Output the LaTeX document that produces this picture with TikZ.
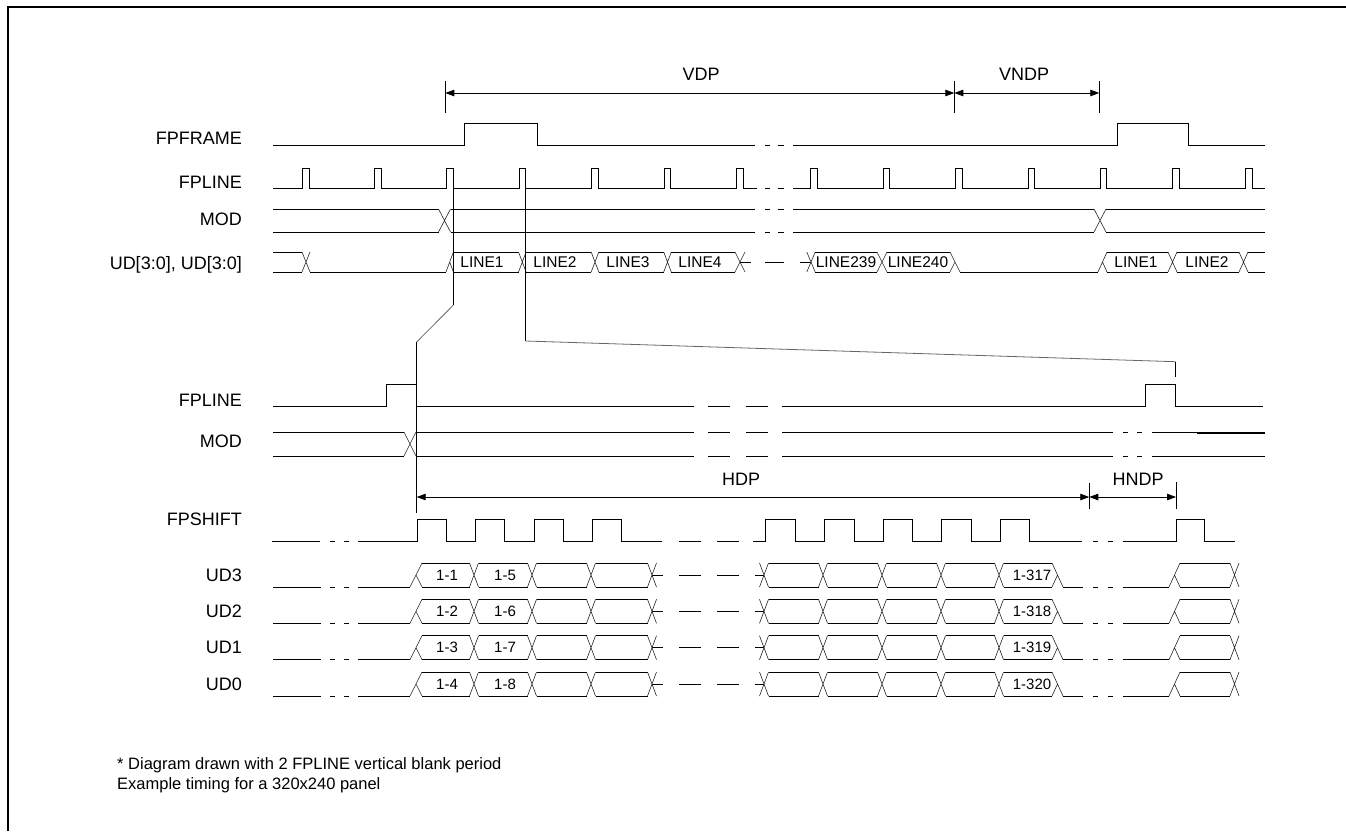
\documentclass[tikz,border=0pt]{standalone}
\usepackage{fontspec}
\setmainfont{Liberation Sans}
\usetikzlibrary{arrows.meta}
\newcommand\XX[4]{\draw[xing] ({#1-#2},#3) -- ({#1+#2},#4) ({#1-#2},#4) -- ({#1+#2},#3);}
\newcommand\OPN[4]{\draw[xing] ({#1-#2},#4) -- ({#1+#2},#3) (#1,{(#3+#4)/2}) -- ({#1+#2},#4);}
\newcommand\CLS[4]{\draw[xing] ({#1-#2},#3) -- ({#1+#2},#4) ({#1-#2},#4) -- (#1,{(#3+#4)/2});}
\newcommand\BUS[4]{\draw[sig] (#1,#3) -- (#2,#3) (#1,#4) -- (#2,#4);}
\begin{document}
\begin{tikzpicture}[x=1pt,y=-1pt,
  sig/.style={line width=1pt, black},
  xing/.style={line width=0.6pt, black!85},
  dim/.style={line width=0.8pt, {Triangle[length=9pt,width=6.5pt]}-{Triangle[length=9pt,width=6.5pt]}},
  tick/.style={line width=0.8pt},
  lbl/.style={font=\fontsize{18}{21}\selectfont, anchor=base east, inner sep=0pt},
  ttl/.style={font=\fontsize{18}{21}\selectfont, anchor=base, inner sep=0pt},
  bus/.style={font=\fontsize{15.5}{18}\selectfont, inner sep=0pt},
  cell/.style={font=\fontsize{15}{18}\selectfont, inner sep=0pt},
  note/.style={font=\fontsize{16.5}{20}\selectfont, anchor=base west, inner sep=0pt},
  zoomline/.style={line width=0.8pt, black!60},
]
\useasboundingbox (0,0) rectangle (1346,831);
\draw[line width=2pt] (7.5,831) -- (7.5,7) -- (1346,7);

% ---------- left labels ----------
\node[lbl] (lFPFRAME) at (242,144) {FPFRAME};
\node[lbl] (lFPLINE) at (242,188) {FPLINE};
\node[lbl] (lMOD) at (242,225) {MOD};
\node[lbl] (lUD) at (242,269) {UD[3:0], UD[3:0]};
\node[lbl] (lFPLINEb) at (242,406) {FPLINE};
\node[lbl] (lMODb) at (242,447) {MOD};
\node[lbl] (lFPSHIFT) at (242,525) {FPSHIFT};

% ---------- VDP / VNDP ----------
\coordinate (vL) at (445.3,93); \coordinate (vM) at (954.3,93); \coordinate (vR) at (1099.3,93);
\draw[tick] (445.3,81) -- (445.3,113) (954.3,81) -- (954.3,113) (1099.3,81) -- (1099.3,113);
\draw[dim] (vL) -- (vM);
\draw[dim] (vM) -- (vR);
\node[ttl] (tVDP) at (701,80) {VDP};
\node[ttl] (tVNDP) at (1024,80) {VNDP};

% ---------- FPFRAME ----------
\draw[sig] (273,145) -- (464.7,145) -- (464.7,123) -- (537.3,123) -- (537.3,145) -- (755,145);
\draw[sig] (765,145) -- (770,145) (778,145) -- (784,145);
\draw[sig] (793,145) -- (1117.3,145) -- (1117.3,123) -- (1188.3,123) -- (1188.3,145) -- (1265,145);

% ---------- FPLINE ----------
\draw[sig] (273,188) foreach \s in {302.7,374.3,446.7,519,591.7,664,736.3} { -- (\s,188) -- (\s,168) -- (\s+6.7,168) -- (\s+6.7,188) } -- (757,188);
\draw[sig] (765,188) -- (770,188) (778,188) -- (784,188);
\draw[sig] (793,188) foreach \s in {810.7,883,955.7,1028,1100,1172.7,1245.5} { -- (\s,188) -- (\s,168) -- (\s+6.7,168) -- (\s+6.7,188) } -- (1265,188);

% ---------- MOD ----------
\BUS{273}{438.5}{209}{232}
\XX{444.5}{6}{209}{232}
\BUS{450.5}{755}{209}{232}
\draw[sig] (765,209) -- (770,209) (778,209) -- (784,209) (765,232) -- (770,232) (778,232) -- (784,232);
\BUS{793}{1094}{209}{232}
\XX{1100}{6}{209}{232}
\BUS{1106}{1265}{209}{232}

% ---------- UD[3:0] ----------
\BUS{273}{302}{252}{272}
\XX{306}{4}{252}{272}
\draw[sig] (310,272) -- (446,272);
\OPN{449.7}{3.7}{252}{272}
\BUS{453.4}{518.5}{252}{272}
\XX{522.3}{3.8}{252}{272}
\BUS{526.1}{591.2}{252}{272}
\XX{595}{3.8}{252}{272}
\BUS{598.8}{663.7}{252}{272}
\XX{667.5}{3.8}{252}{272}
\BUS{671.3}{735}{252}{272}
\XX{740}{5}{252}{272}
\draw[sig] (740,262) -- (751,262) (765,262) -- (784,262) (800,262) -- (811,262);
\XX{811}{4.2}{252}{272}
\BUS{815.2}{877}{252}{272}
\XX{882}{5}{252}{272}
\BUS{887}{950}{252}{272}
\CLS{955}{5}{252}{272}
\draw[sig] (960,272) -- (1098,272);
\OPN{1102.5}{4.5}{252}{272}
\BUS{1107}{1168}{252}{272}
\XX{1172.5}{4.5}{252}{272}
\BUS{1177}{1239}{252}{272}
\XX{1243.5}{4.5}{252}{272}
\BUS{1248}{1265}{252}{272}
\node[bus] (bL1) at (482,262) {LINE1};
\node[bus] (bL2) at (555,262) {LINE2};
\node[bus] (bL3) at (628,262) {LINE3};
\node[bus] (bL4) at (700,262) {LINE4};
\node[bus] (bL239) at (846,262) {LINE239};
\node[bus] (bL240) at (918,262) {LINE240};
\node[bus] (bL1b) at (1136,262) {LINE1};
\node[bus] (bL2b) at (1207,262) {LINE2};

% ---------- zoom lines ----------
\coordinate (pA) at (453.4,168); \coordinate (pAb) at (453.4,305);
\coordinate (qA) at (416.7,342); \coordinate (qAb) at (416.7,513);
\coordinate (pB) at (525.7,168); \coordinate (pBb) at (525.7,341);
\coordinate (qB) at (1175.7,361.7); \coordinate (qBb) at (1175.7,377);
\draw[sig] (pA) -- (pAb);
\draw[zoomline] (pAb) -- (qA);
\draw[sig] (qA) -- (qAb);
\draw[sig] (pB) -- (pBb);
\draw[zoomline] (pBb) -- (qB);
\draw[sig] (qB) -- (qBb);

% ---------- FPLINE (detail) ----------
\draw[sig] (273,406) -- (386.7,406) -- (386.7,384) -- (416.7,384) -- (416.7,406) -- (694,406);
\draw[sig] (708,406) -- (730,406) (746,406) -- (768,406);
\draw[sig] (782,406) -- (1145.7,406) -- (1145.7,384) -- (1175.7,384) -- (1175.7,406) -- (1263,406);

% ---------- MOD (detail) ----------
\BUS{273}{404}{432}{456}
\XX{410}{6}{432}{456}
\BUS{416}{694}{432}{456}
\draw[sig] (708,432) -- (730,432) (746,432) -- (768,432) (708,456) -- (730,456) (746,456) -- (768,456);
\BUS{782}{1113}{432}{456}
\draw[sig] (1123,432) -- (1128,432) (1137,432) -- (1142,432) (1123,456) -- (1128,456) (1137,456) -- (1142,456);
\BUS{1152}{1265}{432}{456}
\draw[line width=1.8pt] (1197,432.8) -- (1265,432.8);

% ---------- HDP / HNDP ----------
\coordinate (hL) at (416.7,497); \coordinate (hM) at (1089.3,497); \coordinate (hR) at (1176,497);
\draw[tick] (1089.3,483) -- (1089.3,509) (1176,482) -- (1176,509);
\draw[dim] (hL) -- (hM);
\draw[dim] (hM) -- (hR);
\node[ttl] (tHDP) at (741,485) {HDP};
\node[ttl] (tHNDP) at (1138,485) {HNDP};

% ---------- FPSHIFT ----------
\draw[sig] (272,541) -- (320,541) (330,541) -- (335,541) (344,541) -- (349,541);
\draw[sig] (358,541) foreach \r in {417.3,475.8,534.3,592.8} { -- (\r,541) -- (\r,519) -- (\r+29,519) -- (\r+29,541) } -- (662,541);
\draw[sig] (679,541) -- (701,541) (717,541) -- (739,541);
\draw[sig] (753,541) foreach \r in {765.7,824.5,883.3,941.7,1000} { -- (\r,541) -- (\r,519) -- (\r+29.5,519) -- (\r+29.5,541) } -- (1082,541);
\draw[sig] (1093,541) -- (1098,541) (1108,541) -- (1113,541);
\draw[sig] (1123,541) -- (1176.7,541) -- (1176.7,519) -- (1204,519) -- (1204,541) -- (1235,541);

% ---------- UD3..UD0 ----------
\foreach \t/\nm/\ca/\cb/\cc/\k in {563/UD3/1-1/1-5/1-317/3, 599.3/UD2/1-2/1-6/1-318/2, 635.7/UD1/1-3/1-7/1-319/1, 672/UD0/1-4/1-8/1-320/0} {
  \pgfmathsetmacro\b{\t+24}
  \pgfmathsetmacro\m{\t+12}
  \node[lbl] (lUD\k) at (242,\t+18) {\nm};
  \draw[sig] (273,\b) -- (321,\b) (330,\b) -- (335,\b) (344,\b) -- (349,\b) (358,\b) -- (410,\b);
  \OPN{416}{6}{\t}{\b}
  \BUS{422}{469.5}{\t}{\b}
  \XX{474}{4.5}{\t}{\b}
  \BUS{478.5}{527.5}{\t}{\b}
  \XX{532}{4.5}{\t}{\b}
  \BUS{536.5}{586.5}{\t}{\b}
  \XX{591}{4.5}{\t}{\b}
  \BUS{595.5}{647.5}{\t}{\b}
  \XX{652}{4.5}{\t}{\b}
  \draw[sig] (652,\m) -- (663,\m) (679,\m) -- (701,\m) (717,\m) -- (739,\m) (755,\m) -- (764,\m);
  \XX{764}{4.5}{\t}{\b}
  \BUS{768.5}{818.5}{\t}{\b}
  \XX{823}{4.5}{\t}{\b}
  \BUS{827.5}{877.5}{\t}{\b}
  \XX{882}{4.5}{\t}{\b}
  \BUS{886.5}{936.5}{\t}{\b}
  \XX{941}{4.5}{\t}{\b}
  \BUS{945.5}{994.5}{\t}{\b}
  \XX{999}{4.5}{\t}{\b}
  \BUS{1003.5}{1052}{\t}{\b}
  \CLS{1057.5}{5.5}{\t}{\b}
  \draw[sig] (1063,\b) -- (1083,\b) (1093,\b) -- (1098,\b) (1108,\b) -- (1113,\b) (1123,\b) -- (1169,\b);
  \OPN{1174.5}{5.5}{\t}{\b}
  \BUS{1180}{1230}{\t}{\b}
  \XX{1234.5}{4.5}{\t}{\b}
  \node[cell] (ca\k) at (447,\m) {\ca};
  \node[cell] (cb\k) at (505,\m) {\cb};
  \node[cell] (cc\k) at (1032,\m) {\cc};
}

% ---------- notes ----------
\node[note] (n1) at (117,769) {* Diagram drawn with 2 FPLINE vertical blank period};
\node[note] (n2) at (117,789) {Example timing for a 320x240 panel};
\end{tikzpicture}
\end{document}
